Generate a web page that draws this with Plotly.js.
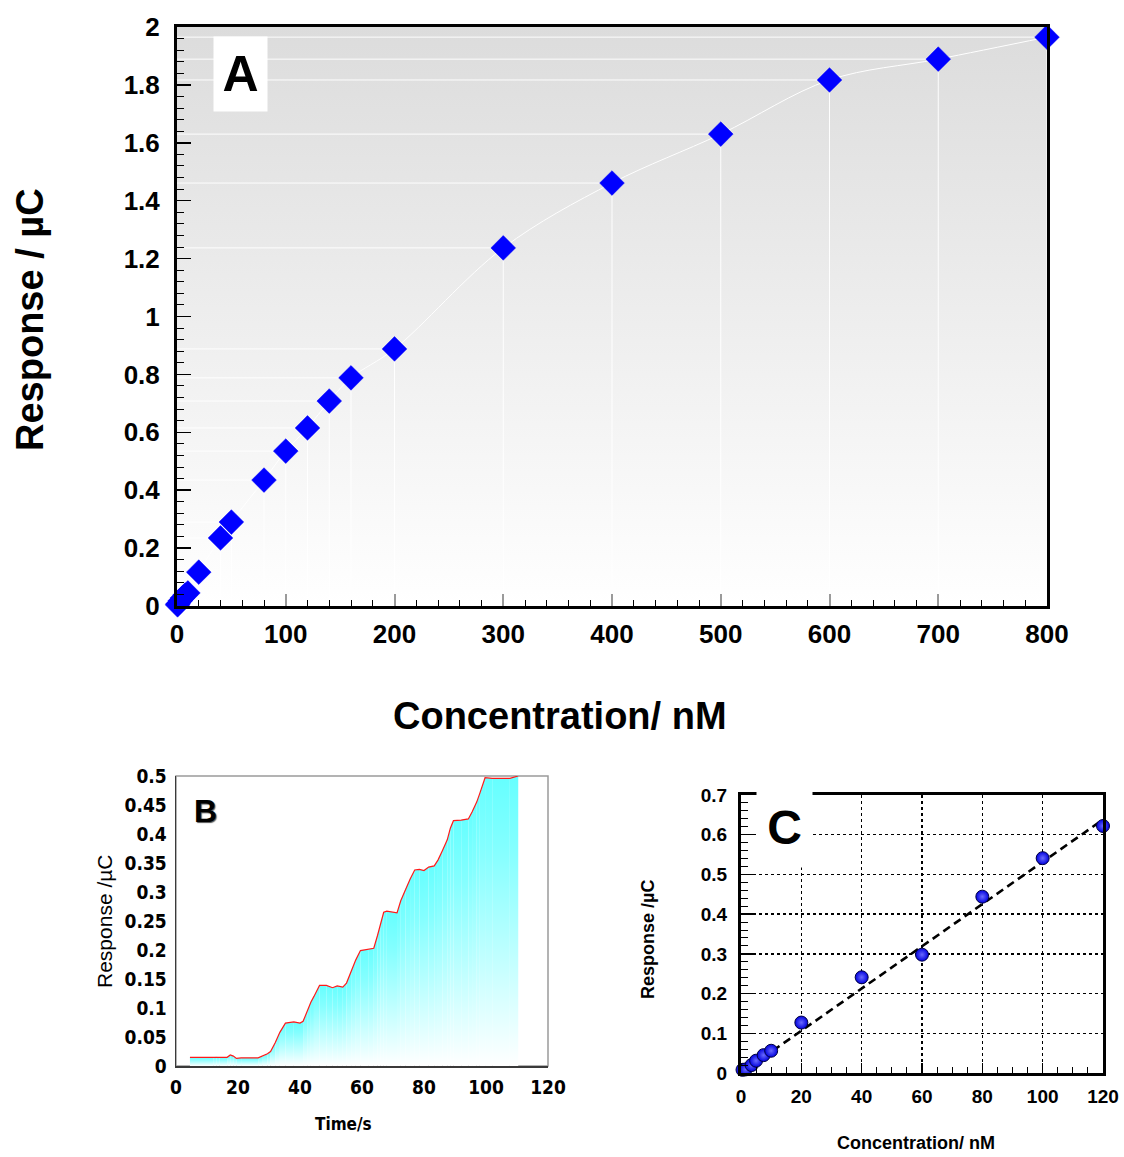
<!DOCTYPE html>
<html>
<head>
<meta charset="utf-8">
<script src="https://cdn.plot.ly/plotly-3.0.1.min.js"></script>
<style>
  html, body { margin: 0; padding: 0; background: #ffffff; }
  #chart { width: 1124px; height: 1157px; }
</style>
</head>
<body>
<div id="chart"></div>
<script>
// ---------------- Panel A data ----------------
const A_conc = [0.5, 1, 3, 5, 7.5, 10, 20, 40, 50, 80, 100, 120, 140, 160, 200, 300, 400, 500, 600, 700, 800];
const A_resp = [0.004, 0.008, 0.018, 0.028, 0.038, 0.045, 0.117, 0.235, 0.29, 0.435, 0.535, 0.615, 0.708, 0.788, 0.888, 1.237, 1.461, 1.630, 1.817, 1.889, 1.965];

// ---------------- Panel B data ----------------
const B_time = [4.5, 12, 13, 14, 16.5, 17.5, 18.5, 19.5, 21, 26.5, 28, 29.5, 30.5, 32, 33.5, 35.3, 38, 40, 41, 42.5, 43.5, 44.5, 46.3, 48.5, 50.5, 52, 53.8, 55, 56.5, 58, 59.5, 62, 63.8, 65, 66, 67, 68, 70, 71.3, 72.5, 74, 75.5, 77, 78.5, 80, 81.5, 83.3, 84.5, 86, 87.5, 88.5, 89.5, 92, 94.3, 95.5, 97, 98, 99.7, 102, 107.7, 110.4];
const B_resp = [0.015, 0.015, 0.016, 0.015, 0.015, 0.019, 0.017, 0.013, 0.014, 0.014, 0.017, 0.021, 0.025, 0.040, 0.058, 0.074, 0.076, 0.074, 0.077, 0.097, 0.110, 0.120, 0.139, 0.139, 0.135, 0.138, 0.136, 0.143, 0.163, 0.183, 0.199, 0.201, 0.203, 0.225, 0.245, 0.265, 0.267, 0.265, 0.264, 0.285, 0.305, 0.322, 0.338, 0.339, 0.337, 0.343, 0.345, 0.355, 0.372, 0.390, 0.410, 0.423, 0.424, 0.426, 0.438, 0.455, 0.470, 0.497, 0.496, 0.496, 0.500];

// ---------------- Panel C data ----------------
const C_conc = [0.5, 1.5, 3.5, 5, 7.5, 10, 20, 40, 60, 80, 100, 120];
const C_resp = [0.008, 0.009, 0.020, 0.031, 0.045, 0.056, 0.127, 0.241, 0.298, 0.444, 0.541, 0.622];
const C_fit_x = [0, 120];
const C_fit_y = [0.0, 0.638];

// ---------------- Texts ----------------
const TXT = {
  aY: '<b>Response / µC</b>',
  aX: '<b>Concentration/ nM</b>',
  bY: 'Response /µC',
  bX: '<b>Time/s</b>',
  cY: '<b>Response /µC</b>',
  cX: '<b>Concentration/ nM</b>',
  A: '<b>A</b>', B: '<b>B</b>', C: '<b>C</b>'
};

// ---------------- Styles ----------------
const FONT = 'Arial, "Liberation Sans", sans-serif';
const NARROW = '"Liberation Sans Narrow", "Arial Narrow", "DejaVu Sans Condensed", sans-serif';
const W = 1124, H = 1157;
const px = v => v / W;
const py = v => 1 - v / H;

// ---------------- Traces ----------------
const traces = [];

// Panel A drop lines (to both axes)
const dropX = [], dropY = [];
A_conc.forEach((x, i) => {
  const y = A_resp[i];
  dropX.push(x, x, null, 0, x, null);
  dropY.push(0, y, null, y, y, null);
});
traces.push({
  x: dropX, y: dropY, xaxis: 'x', yaxis: 'y', type: 'scatter', mode: 'lines',
  line: { color: 'rgba(255,255,255,0.95)', width: 1 }, hoverinfo: 'skip', showlegend: false
});
// Panel A connecting curve
traces.push({
  x: A_conc, y: A_resp, xaxis: 'x', yaxis: 'y', type: 'scatter', mode: 'lines',
  line: { color: '#ffffff', width: 1, shape: 'spline' }, showlegend: false
});
// Panel A markers
traces.push({
  x: A_conc, y: A_resp, xaxis: 'x', yaxis: 'y', type: 'scatter', mode: 'markers',
  marker: { symbol: 'diamond', size: 19, color: '#0000ff', line: { color: '#0000ff', width: 0.5 } },
  cliponaxis: false, showlegend: false
});

// Panel B gradient fill, column by column
const B_SCALE = [[0, '#ffffff'], [0.45, '#b4ffff'], [0.75, '#84ffff'], [1, '#66ffff']];
for (let i = 0; i < B_time.length - 1; i++) {
  const top = Math.max(B_resp[i], B_resp[i + 1]);
  traces.push({
    x: [B_time[i], B_time[i + 1]], y: [B_resp[i], B_resp[i + 1]],
    xaxis: 'x2', yaxis: 'y2', type: 'scatter', mode: 'none', fill: 'tozeroy',
    fillgradient: { type: 'vertical', start: 0, stop: top, colorscale: B_SCALE },
    hoverinfo: 'skip', showlegend: false
  });
}
traces.push({
  x: B_time, y: B_resp, xaxis: 'x2', yaxis: 'y2', type: 'scatter', mode: 'lines',
  line: { color: '#ff1a1a', width: 1.2 }, showlegend: false
});

// Panel C fit line
traces.push({
  x: C_fit_x, y: C_fit_y, xaxis: 'x3', yaxis: 'y3', type: 'scatter', mode: 'lines',
  line: { color: '#000000', width: 2.6, dash: '8px,5px' }, showlegend: false
});
// Panel C markers
traces.push({
  x: C_conc, y: C_resp, xaxis: 'x3', yaxis: 'y3', type: 'scatter', mode: 'markers',
  marker: { symbol: 'circle', size: 13, color: '#0000dd',
            gradient: { type: 'radial', color: '#6a6aff' },
            line: { color: '#000040', width: 1 } },
  cliponaxis: false, showlegend: false
});

// ---------------- Background gradient for A ----------------
const svgBg = "<svg xmlns='http://www.w3.org/2000/svg' width='10' height='100' preserveAspectRatio='none'>" +
  "<defs><linearGradient id='g' x1='0' y1='0' x2='0' y2='1'>" +
  "<stop offset='0' stop-color='#dcdcdc'/><stop offset='1' stop-color='#ffffff'/>" +
  "</linearGradient></defs><rect width='10' height='100' fill='url(#g)'/></svg>";
const bgSrc = 'data:image/svg+xml;base64,' + btoa(svgBg);

// ---------------- Layout ----------------
const tickA = { family: FONT, size: 26, color: '#000000', weight: 'bold' };
const tickB = { family: NARROW, size: 19, color: '#000000', weight: 'bold' };
const tickC = { family: FONT, size: 19, color: '#000000', weight: 'bold' };

function ann(text, x, y, font, extra) {
  return Object.assign({ text, xref: 'paper', yref: 'paper', x: px(x), y: py(y),
    xanchor: 'center', yanchor: 'middle', showarrow: false, font }, extra || {});
}

const layout = {
  width: W, height: H,
  margin: { l: 0, r: 0, t: 0, b: 0 },
  paper_bgcolor: '#ffffff', plot_bgcolor: 'rgba(0,0,0,0)',
  showlegend: false,
  font: { family: FONT, color: '#000000' },
  // Panel A
  xaxis: {
    domain: [px(177), px(1047)], anchor: 'y', range: [0, 800], dtick: 100,
    showgrid: false, zeroline: false, showline: true, linecolor: '#000000', linewidth: 3, mirror: true,
    ticks: 'inside', ticklen: 12, tickwidth: 2, tickcolor: '#9a9a9a',
    minor: { dtick: 20, ticks: 'inside', ticklen: 6, tickwidth: 1, tickcolor: '#000000', showgrid: false },
    tickfont: tickA, ticklabelstandoff: 3
  },
  yaxis: {
    domain: [py(606), py(27)], anchor: 'x', range: [0, 2], dtick: 0.2,
    showgrid: false, zeroline: false, showline: true, linecolor: '#000000', linewidth: 3, mirror: true,
    ticks: 'inside', ticklen: 14, tickwidth: 1.5, tickcolor: '#000000',
    minor: { dtick: 0.04, ticks: 'inside', ticklen: 7, tickwidth: 1, tickcolor: '#000000', showgrid: false },
    tickfont: tickA, ticklabelstandoff: 9
  },
  // Panel B
  xaxis2: {
    domain: [px(176), px(548)], anchor: 'y2', range: [0, 120], dtick: 20,
    showgrid: false, zeroline: false, showline: true, linecolor: '#3a3a3a', linewidth: 1.5,
    ticks: '', tickfont: tickB, ticklabelstandoff: 4
  },
  yaxis2: {
    domain: [py(1066), py(776)], anchor: 'x2', range: [0, 0.5], dtick: 0.05,
    showgrid: false, zeroline: false, showline: true, linecolor: '#3a3a3a', linewidth: 1.5,
    ticks: '', tickfont: tickB, ticklabelstandoff: 4
  },
  // Panel C
  xaxis3: {
    domain: [px(741), px(1103)], anchor: 'y3', range: [0, 120], dtick: 20,
    showgrid: true, gridcolor: '#000000', griddash: 'dot', gridwidth: 1.5,
    zeroline: false, showline: true, linecolor: '#000000', linewidth: 3, mirror: true,
    ticks: 'inside', ticklen: 10, tickwidth: 1.5, tickcolor: '#000000',
    minor: { dtick: 5, ticks: 'inside', ticklen: 6, tickwidth: 1, tickcolor: '#000000', showgrid: false },
    tickfont: tickC, ticklabelstandoff: 4
  },
  yaxis3: {
    domain: [py(1073), py(795)], anchor: 'x3', range: [0, 0.7], dtick: 0.1,
    showgrid: true, gridcolor: '#000000', griddash: 'dot', gridwidth: 1.5,
    zeroline: false, showline: true, linecolor: '#000000', linewidth: 3, mirror: true,
    ticks: 'inside', ticklen: 12, tickwidth: 1.5, tickcolor: '#000000',
    minor: { dtick: 0.02, ticks: 'inside', ticklen: 7, tickwidth: 1, tickcolor: '#000000', showgrid: false },
    tickfont: tickC, ticklabelstandoff: 7
  },
  images: [{
    source: bgSrc, xref: 'x domain', yref: 'y domain', x: 0, y: 1, sizex: 1, sizey: 1,
    xanchor: 'left', yanchor: 'top', sizing: 'stretch', layer: 'below'
  }],
  shapes: [{
    type: 'rect', xref: 'x2 domain', yref: 'y2 domain', x0: 0, x1: 1, y0: 0, y1: 1,
    line: { color: '#9a9a9a', width: 1.5 }, layer: 'below'
  }],
  annotations: [
    ann(TXT.aY, 30, 320, { family: FONT, size: 38, color: '#000000' }, { textangle: -90 }),
    ann(TXT.aX, 560, 716, { family: FONT, size: 38, color: '#000000' }),
    ann(TXT.A, 240.5, 74, { family: FONT, size: 50, color: '#000000' },
        { width: 53, height: 74, bgcolor: '#ffffff', borderpad: 0 }),
    ann(TXT.bY, 104, 921, { family: FONT, size: 21, color: '#000000' }, { textangle: -90 }),
    ann(TXT.bX, 343, 1124, { family: NARROW, size: 17, color: '#000000' }),
    ann(TXT.B, 205, 811, { family: FONT, size: 32, color: '#000000', shadow: '1px 1px 1px #555' }),
    ann(TXT.cY, 648, 940, { family: FONT, size: 18, color: '#000000' }, { textangle: -90 }),
    ann(TXT.cX, 916, 1143, { family: FONT, size: 18, color: '#000000' }),
    ann(TXT.C, 784.5, 826.5, { family: FONT, size: 48, color: '#000000' },
        { width: 55, height: 80, bgcolor: '#ffffff', borderpad: 0 })
  ]
};

Plotly.newPlot('chart', traces, layout, { staticPlot: true, displayModeBar: false });
</script>
</body>
</html>
